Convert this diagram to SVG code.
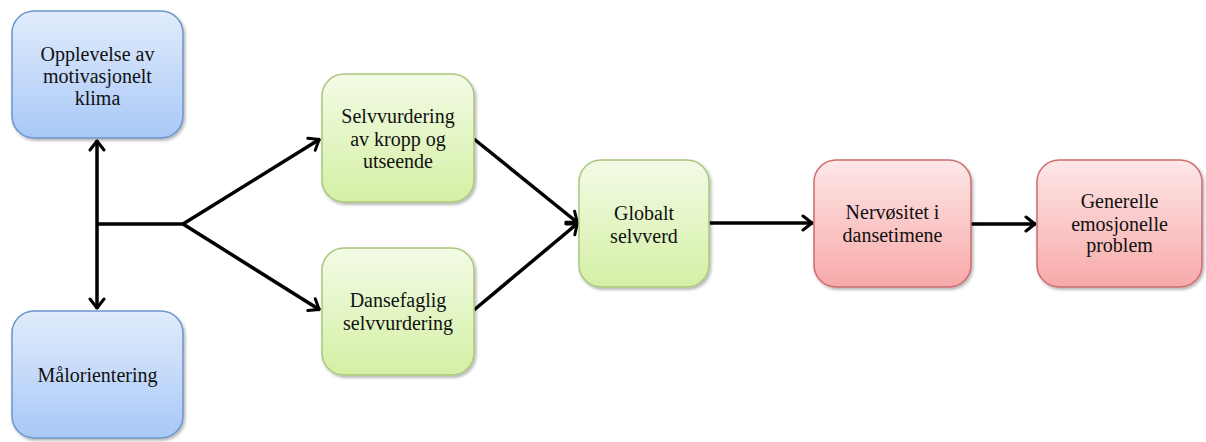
<svg xmlns="http://www.w3.org/2000/svg" width="1206" height="442" viewBox="0 0 1206 442">
<defs>
<linearGradient id="gBlue" x1="0" y1="0" x2="0" y2="1"><stop offset="0" stop-color="#e1ecfc"/><stop offset="1" stop-color="#a8c8f7"/></linearGradient>
<linearGradient id="gGreen" x1="0" y1="0" x2="0" y2="1"><stop offset="0" stop-color="#f3fbe6"/><stop offset="1" stop-color="#d4f0a4"/></linearGradient>
<linearGradient id="gRed" x1="0" y1="0" x2="0" y2="1"><stop offset="0" stop-color="#fde7e7"/><stop offset="1" stop-color="#f8a9a9"/></linearGradient>
<filter id="sh" x="-10%" y="-10%" width="125%" height="125%"><feDropShadow dx="1.5" dy="2" stdDeviation="1.5" flood-color="#000" flood-opacity="0.3"/></filter>
<marker id="arr" viewBox="0 0 14 18" refX="12" refY="9" markerWidth="14" markerHeight="18" markerUnits="userSpaceOnUse" orient="auto-start-reverse">
<path d="M2,2 L11,9 L2,16" fill="none" stroke="#000" stroke-width="3" stroke-linecap="round" stroke-linejoin="round"/>
</marker>
</defs>
<style>
.box{stroke-width:1.5;filter:url(#sh)}
.blue{fill:url(#gBlue);stroke:#6c95ca}
.green{fill:url(#gGreen);stroke:#a9c77c}
.red{fill:url(#gRed);stroke:#cc6d6d}
text{font-family:"Liberation Serif","Times New Roman",serif;font-size:20px;fill:#111;text-anchor:middle}
.con{fill:none;stroke:#000;stroke-width:3.5;stroke-linejoin:miter}
</style>
<g id="connectors">
<path class="con" d="M97,140 L97,309" marker-start="url(#arr)" marker-end="url(#arr)"/>
<path class="con" d="M97,224 L183,224"/>
<path class="con" d="M183,224 L320,139" marker-end="url(#arr)"/>
<path class="con" d="M183,224 L320,310" marker-end="url(#arr)"/>
<path class="con" d="M474,139 L578,223" marker-end="url(#arr)"/>
<path class="con" d="M474,310 L578,223" marker-end="url(#arr)"/>
<path class="con" d="M709,223 L813,223" marker-end="url(#arr)"/>
<path class="con" d="M971,224 L1036,224" marker-end="url(#arr)"/>
</g>
<g id="n1">
<rect class="box blue" x="12" y="11" width="171" height="127" rx="22"/>
<text x="97.5" y="61">Opplevelse av</text>
<text x="97.5" y="83">motivasjonelt</text>
<text x="97.5" y="105">klima</text>
</g>
<g id="n2">
<rect class="box blue" x="12" y="311" width="171" height="127" rx="22"/>
<text x="97.5" y="382">Målorientering</text>
</g>
<g id="n3">
<rect class="box green" x="322" y="74" width="152" height="128" rx="22"/>
<text x="398" y="123">Selvvurdering</text>
<text x="398" y="145.5">av kropp og</text>
<text x="398" y="168">utseende</text>
</g>
<g id="n4">
<rect class="box green" x="322" y="248" width="152" height="127" rx="22"/>
<text x="398" y="307">Dansefaglig</text>
<text x="398" y="330">selvvurdering</text>
</g>
<g id="n5">
<rect class="box green" x="579" y="160" width="130" height="127" rx="22"/>
<text x="644" y="220">Globalt</text>
<text x="644" y="242.5">selvverd</text>
</g>
<g id="n6">
<rect class="box red" x="814" y="160" width="157" height="127" rx="22"/>
<text x="892.5" y="219">Nervøsitet i</text>
<text x="892.5" y="241.5">dansetimene</text>
</g>
<g id="n7">
<rect class="box red" x="1037" y="160" width="165" height="127" rx="22"/>
<text x="1119.5" y="208">Generelle</text>
<text x="1119.5" y="230.5">emosjonelle</text>
<text x="1119.5" y="252">problem</text>
</g>
</svg>
